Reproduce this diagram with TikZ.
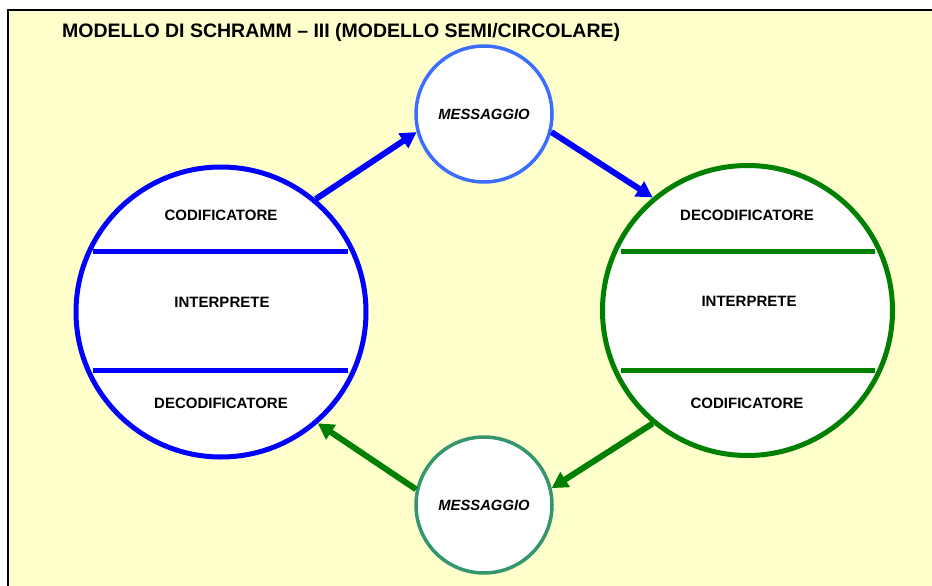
\documentclass[tikz,border=0pt]{standalone}
\usepackage{fontspec}
\setmainfont{Liberation Sans}
\usetikzlibrary{arrows.meta}
\definecolor{paper}{RGB}{255,255,204}
\definecolor{sblue}{RGB}{0,0,255}
\definecolor{sgreen}{RGB}{0,128,0}
\definecolor{msgblue}{RGB}{59,110,255}
\definecolor{msggreen}{RGB}{51,150,110}
\tikzset{
  bigring/.style={circle, draw, line width=5pt, fill=white, minimum size=290pt, inner sep=0pt},
  msgring/.style={circle, draw, line width=3.5pt, fill=white, minimum size=136pt, inner sep=0pt,
    font=\fontsize{14.8}{17}\selectfont\bfseries\itshape},
  role/.style={font=\fontsize{15}{17}\selectfont\bfseries, inner sep=0pt},
  divider/.style={line width=5pt},
  flow/.style={line width=6pt, -{Triangle[length=16pt,width=17pt]}},
}
\begin{document}
\begin{tikzpicture}[x=1pt, y=-1pt]
  \useasboundingbox (0,0) rectangle (932,586);
  \clip (0,0) rectangle (932,586);
  % page panel
  \fill[white] (0,0) rectangle (932,586);
  \draw[fill=paper, line width=1.4pt] (8,10) rectangle (950,600);

  % title
  \node[anchor=west, inner sep=0pt, font=\fontsize{19.5}{22}\selectfont\bfseries] (title) at (62,32)
    {MODELLO DI SCHRAMM – III (MODELLO SEMI/CIRCOLARE)};

  % left participant
  \node[bigring, draw=sblue] (L) at (221,312) {};
  \draw[divider, sblue] (93,251) -- (348,251);
  \draw[divider, sblue] (93,370) -- (348,370);
  \node[role] (Lcod) at (221,215) {CODIFICATORE};
  \node[role] (Lint) at (222,302) {INTERPRETE};
  \node[role] (Ldec) at (221,403) {DECODIFICATORE};

  % right participant
  \node[bigring, draw=sgreen] (R) at (747.5,310.5) {};
  \draw[divider, sgreen] (621,251) -- (875,251);
  \draw[divider, sgreen] (621,370) -- (875,370);
  \node[role] (Rdec) at (747,215) {DECODIFICATORE};
  \node[role] (Rint) at (749,301) {INTERPRETE};
  \node[role] (Rcod) at (747,403) {CODIFICATORE};

  % messages
  \node[msgring, draw=msgblue] (M1) at (484,114) {MESSAGGIO};
  \node[msgring, draw=msggreen] (M2) at (484,505) {MESSAGGIO};

  % flows
  \draw[flow, sblue] (L.50) -- (M1.195);
  \draw[flow, sblue] (M1.-15) -- (R.130);
  \draw[flow, sgreen] (R.230) -- (M2.14);
  \draw[flow, sgreen] (M2.167) -- (L.311);
\end{tikzpicture}
\end{document}
